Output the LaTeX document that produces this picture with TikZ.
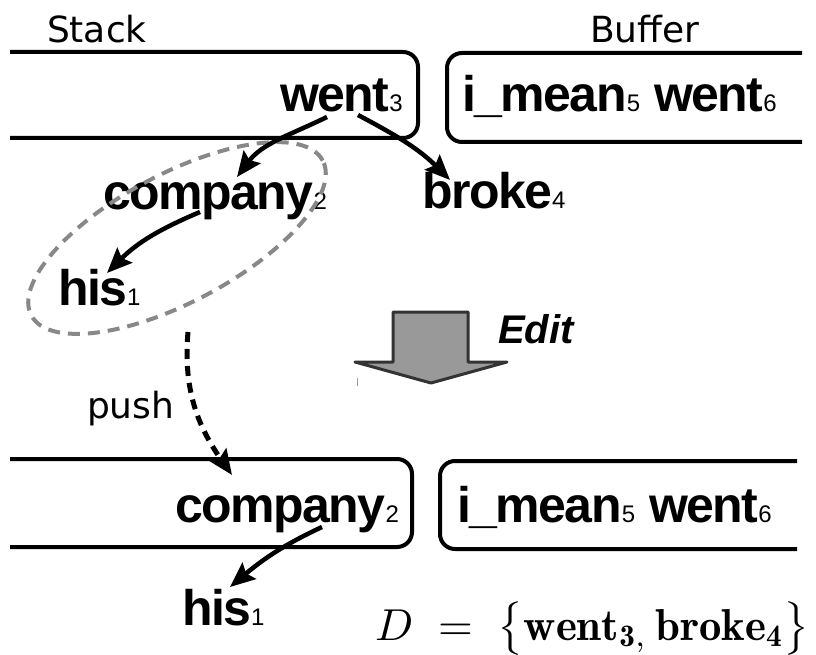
\documentclass[tikz,border=0pt]{standalone}
\usepackage{fontspec}
\usepackage{graphicx}
\newfontfamily\arialf[LetterSpace=-3]{Liberation Sans}
\newfontfamily\arialr{Liberation Sans}
\newfontfamily\djv{DejaVu Sans}
\usetikzlibrary{arrows.meta,shapes.geometric,calc}
\definecolor{dashgray}{HTML}{888888}
\definecolor{editfill}{HTML}{999999}
\definecolor{editline}{HTML}{333333}
\newcommand\wrd[2]{{\arialf\fontsize{50}{54}\selectfont\bfseries #1}{\arialr\fontsize{24}{27}\selectfont #2}}
\tikzset{
 word/.style={anchor=base west, inner sep=0pt, outer sep=0pt, font=\arialr\fontsize{50}{54}\selectfont},
 lbl/.style={anchor=base west, inner sep=0pt, outer sep=0pt, font=\djv\fontsize{36}{40}\selectfont},
 boxline/.style={line width=4pt, rounded corners=15pt},
 dep/.style={line width=4.5pt, -{Stealth[length=25pt,width=21pt,inset=4pt]}},
 pusharrow/.style={line width=5pt, dash pattern=on 10pt off 7pt, -{Stealth[length=25pt,width=21pt,inset=4pt]}},
 group/.style={ellipse, draw=dashgray, line width=4pt, dash pattern=on 12pt off 8pt, minimum width=330pt, minimum height=128pt, inner sep=0pt},
}
\begin{document}
\begin{tikzpicture}[x=1pt,y=-1pt]
\useasboundingbox (0,0) rectangle (816,655);
% labels
\node[lbl] (stacklbl) at (47,43) {Stack};
\node[lbl] (buflbl) at (590,43) {Buffer};
\node[lbl] (pushlbl) at (87,418) {push};
% boxes top
\draw[boxline] (10,52) -- (418,52) -- (418,138) -- (10,138);
\draw[boxline] (802,53) -- (447,53) -- (447,142) -- (802,142);
% boxes bottom
\draw[boxline] (10,459) -- (412,459) -- (412,547) -- (10,547);
\draw[boxline] (797,461) -- (440,461) -- (440,549) -- (797,549);
% words top
\node[word] (went) at (280,112) {\wrd{went}{3}};
\node[word] (buf1) at (462,112) {\wrd{i\_mean}{5} \wrd{went}{6}};
\node[word] (company) at (103,210) {\wrd{company}{2}};
\node[word] (broke) at (422,208) {\wrd{broke}{4}};
\node[word] (his) at (58,305) {\wrd{his}{1}};
\node[group, rotate=28] (grp) at (177,238) {};
% words bottom
\node[word] (comp2) at (175,522) {\wrd{company}{2}};
\node[word] (buf2) at (457,522) {\wrd{i\_mean}{5} \wrd{went}{6}};
\node[word] (his2) at (182,625) {\wrd{his}{1}};
% math
\node[anchor=base west, inner sep=0pt, outer sep=0pt] (dset) at (375,640) {\resizebox{435pt}{!}{$D\;=\;\bigl\{\mathbf{went}_{\mathbf{3},}\,\mathbf{broke}_{\mathbf{4}}\bigr\}$}};
% edit arrow
\draw[fill=editfill, draw=editline, line width=3pt, line join=round] (393,312) -- (468,312) -- (468,362) -- (507,362) -- (431,383) -- (355,362) -- (393,362) -- cycle;
\draw[editfill, line width=1pt] (357,378) -- (357,386);
\node[word] (edit) at (498,343) {\arialr\fontsize{40}{44}\selectfont\bfseries\itshape Edit};
% dependency arcs
\draw[dep] ($(went.base west)+(47,5)$) to[out=206, in=53] ($(company.base west)+(134,-33)$);
\draw[dep] ($(went.base west)+(78,3)$) to[out=-28, in=135] ($(broke.base west)+(28,-28)$);
\draw[dep] ($(company.base west)+(97,2)$) to[out=203, in=45] ($(his.base west)+(49,-32)$);
\draw[dep] ($(comp2.base west)+(147,5)$) to[out=205, in=40] ($(his2.base west)+(48,-38)$);
% push
\draw[pusharrow] ($(grp.center)+(11,94)$) to[out=-95, in=125] ($(comp2.base west)+(57,-47)$);
\end{tikzpicture}
\end{document}
